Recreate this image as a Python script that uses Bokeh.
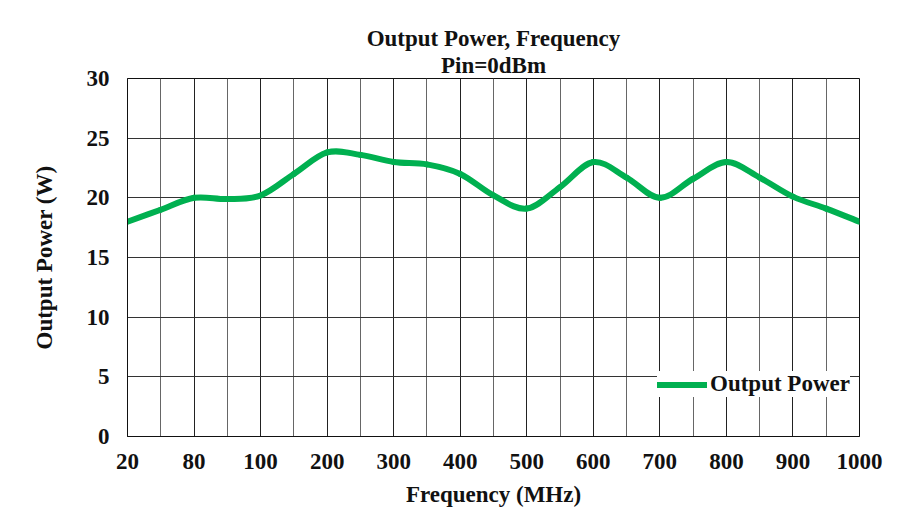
import numpy as np
from bokeh.plotting import figure
from bokeh.models import Range1d, FixedTicker, Title, Legend, LegendItem, ColumnDataSource
from bokeh.embed import file_html
from bokeh.resources import INLINE

# ---- data ----
freq_labels = ["20", "80", "100", "200", "300", "400", "500", "600", "700", "800", "900", "1000"]
# sampled at every labelled frequency and halfway between neighbours
power_w = [18.0, 19.0, 20.0, 19.9, 20.2, 22.0, 23.8, 23.6, 23.0, 22.8, 22.0, 20.2,
           19.1, 20.9, 23.0, 21.7, 20.0, 21.6, 23.0, 21.7, 20.1, 19.1, 18.0]
y_ticks = [0, 5, 10, 15, 20, 25, 30]

GREEN = "#00B050"
FONT = "Liberation Serif"
FS = "23px"

x = np.arange(len(power_w)) / 2.0
y = np.array(power_w)
n = len(x)

# smooth curve through the points (Catmull-Rom -> cubic Bezier segments)
i0 = np.arange(n - 1)
im1 = np.clip(i0 - 1, 0, n - 1)
ip1 = i0 + 1
ip2 = np.clip(i0 + 2, 0, n - 1)
src = ColumnDataSource(dict(
    x0=x[i0], y0=y[i0], x1=x[ip1], y1=y[ip1],
    cx0=x[i0] + (x[ip1] - x[im1]) / 6.0, cy0=y[i0] + (y[ip1] - y[im1]) / 6.0,
    cx1=x[ip1] - (x[ip2] - x[i0]) / 6.0, cy1=y[ip1] - (y[ip2] - y[i0]) / 6.0,
))

p = figure(width=900, height=512, output_backend="svg", toolbar_location=None,
           x_range=Range1d(0, len(freq_labels) - 1), y_range=Range1d(0, 30),
           min_border_left=127, min_border_right=41, min_border_top=78, min_border_bottom=76)
p.title = None

curve = p.bezier(x0="x0", y0="y0", x1="x1", y1="y1", cx0="cx0", cy0="cy0", cx1="cx1", cy1="cy1",
                 source=src, line_color=GREEN, line_width=6, line_cap="round")

# titles
p.add_layout(Title(text="Pin=0dBm", align="center", text_font=FONT, text_font_size=FS,
                   text_font_style="bold", text_color="#111", standoff=2), "above")
p.add_layout(Title(text="Output Power, Frequency", align="center", text_font=FONT, text_font_size=FS,
                   text_font_style="bold", text_color="#111", standoff=-3), "above")

# axes
p.xaxis.ticker = FixedTicker(ticks=list(range(len(freq_labels))),
                             minor_ticks=[i + 0.5 for i in range(len(freq_labels) - 1)])
p.xaxis.major_label_overrides = {i: s for i, s in enumerate(freq_labels)}
p.yaxis.ticker = FixedTicker(ticks=y_ticks)
p.xaxis.axis_label = "Frequency (MHz)"
p.yaxis.axis_label = "Output Power (W)"
for ax in (p.xaxis, p.yaxis):
    ax.major_tick_out = 0
    ax.major_tick_in = 0
    ax.minor_tick_out = 0
    ax.minor_tick_in = 0
    ax.axis_line_color = "#111"
    ax.major_label_text_font = FONT
    ax.major_label_text_font_style = "bold"
    ax.major_label_text_font_size = FS
    ax.major_label_text_color = "#111"
    ax.axis_label_text_font = FONT
    ax.axis_label_text_font_style = "bold"
    ax.axis_label_text_font_size = FS
    ax.axis_label_text_color = "#111"
p.xaxis.major_label_standoff = 17
p.xaxis.axis_label_standoff = 10
p.yaxis.major_label_standoff = 18
p.yaxis.axis_label_standoff = 27

# grid
p.xgrid.grid_line_color = "#222"
p.xgrid.minor_grid_line_color = "#666"
p.ygrid.grid_line_color = "#333"
p.outline_line_color = "#111"
p.background_fill_color = "white"
p.border_fill_color = "white"

legend = Legend(items=[LegendItem(label="Output Power", renderers=[curve])],
                location=(530, 39), orientation="vertical",
                label_text_font=FONT, label_text_font_style="bold", label_text_font_size=FS,
                label_text_color="#111", glyph_width=50, glyph_height=21, label_height=21,
                label_standoff=3, padding=6, spacing=0, margin=0,
                border_line_color=None, background_fill_color="white", background_fill_alpha=1.0)
p.add_layout(legend, "center")

open("out.html", "w").write(file_html(p, INLINE))
